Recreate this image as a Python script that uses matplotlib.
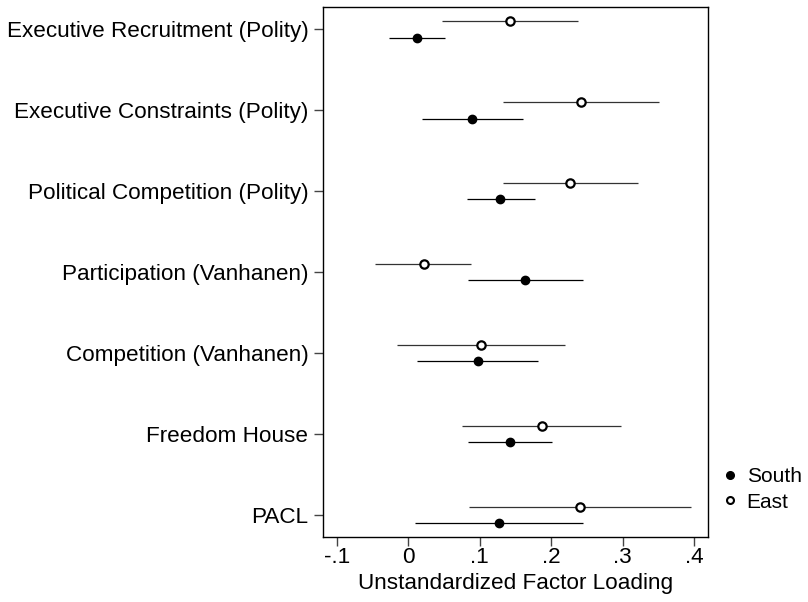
import numpy as np
import matplotlib
matplotlib.use("Agg")
from matplotlib import pyplot as plt
from matplotlib.lines import Line2D

plt.rcParams["font.family"] = ["Liberation Sans", "DejaVu Sans"]

# top to bottom
indicators = ["Executive Recruitment (Polity)", "Executive Constraints (Polity)",
              "Political Competition (Polity)", "Participation (Vanhanen)",
              "Competition (Vanhanen)", "Freedom House", "PACL"]

south_est = [0.013, 0.089, 0.128, 0.163, 0.097, 0.142, 0.127]
south_lo = [-0.027, 0.019, 0.082, 0.083, 0.012, 0.083, 0.010]
south_hi = [0.052, 0.160, 0.177, 0.244, 0.182, 0.201, 0.244]

east_est = [0.142, 0.241, 0.226, 0.022, 0.102, 0.187, 0.240]
east_lo = [0.047, 0.132, 0.133, -0.046, -0.015, 0.076, 0.085]
east_hi = [0.237, 0.351, 0.321, 0.088, 0.220, 0.297, 0.395]

xticks = [-0.1, 0, 0.1, 0.2, 0.3, 0.4]
xticklabels = ["-.1", "0", ".1", ".2", ".3", ".4"]

fig = plt.figure(figsize=(8.08, 6.02), dpi=100)
ax = fig.add_axes([0.3998, 0.108, 0.4762, 0.880])

n = len(indicators)
ypos = np.arange(n, 0, -1)
off = 0.1

ax.hlines(ypos - off, south_lo, south_hi, color="black", lw=0.9)
ax.plot(south_est, ypos - off, "o", color="black", ms=6, label="South", zorder=3)
ax.hlines(ypos + off, east_lo, east_hi, color="#333333", lw=0.9)
ax.plot(east_est, ypos + off, "o", mfc="white", mec="black", mew=1.6, ms=6,
        label="East", zorder=3)

ax.set_xlim(-0.119, 0.419)
ax.set_ylim(0.73, n + 0.275)
ax.set_yticks(ypos)
ax.set_yticklabels(indicators, fontsize=16.2)
ax.set_xticks(xticks)
ax.set_xticklabels(xticklabels, fontsize=16.2)
ax.set_xlabel("Unstandardized Factor Loading", fontsize=16.2, labelpad=3.5)
ax.tick_params(axis="both", length=6.5, width=1, color="#444444")
ax.tick_params(axis="y", pad=4)
ax.tick_params(axis="x", pad=1)
for s in ax.spines.values():
    s.set_linewidth(1)

handles = [Line2D([], [], ls="", marker="o", color="black", ms=5.5),
           Line2D([], [], ls="", marker="o", mfc="white", mec="black", mew=1.5, ms=5)]
fig.legend(handles, ["South", "East"], loc="center left",
           bbox_to_anchor=(0.870, 0.187), frameon=False, fontsize=15,
           handlelength=0.8, handletextpad=0.4, labelspacing=0.3)

fig.savefig("out.png", dpi=100)
